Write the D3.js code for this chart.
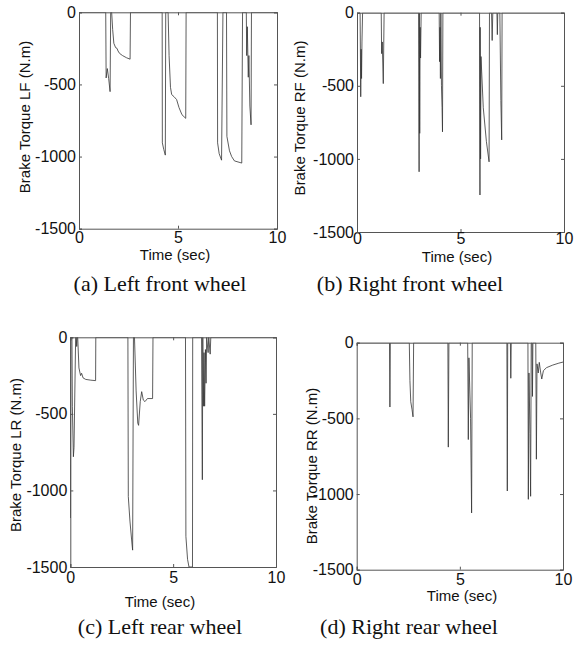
<!DOCTYPE html>
<html>
<head>
<meta charset="utf-8">
<script src="https://cdn.jsdelivr.net/npm/d3@7"></script>
<style>
  body { margin: 0; background: #fff; }
  .tick text { font-family: "Liberation Sans", Arial, sans-serif; font-size: 16px; fill: #111; }
  .axis-title { font-family: "Liberation Sans", Arial, sans-serif; font-size: 15px; fill: #111; }
  .caption { font-family: "Liberation Serif", "Times New Roman", serif; font-size: 22px; fill: #111; }
</style>
</head>
<body>
<div id="chart"></div>
<script>
// tick values shared by all four panels
const timeTicks = [0, 5, 10];
const torqueTicks = [0, -500, -1000, -1500];

const yLabels = ["Brake Torque LF (N.m)", "Brake Torque RF (N.m)", "Brake Torque LR (N.m)", "Brake Torque RR (N.m)"];
const captions = ["(a) Left front wheel", "(b) Right front wheel", "(c) Left rear wheel", "(d) Right rear wheel"];

// [time (sec), torque (N.m)]
const lfTorque = [
  [0,0],[1.35,0],[1.37,-455],[1.43,-390],[1.5,-460],[1.57,-550],[1.6,0],[1.65,0],[1.7,-120],[1.76,-215],
  [1.85,-245],[1.92,-250],[1.97,-268],[2.05,-285],[2.2,-300],[2.4,-315],[2.58,-325],[2.6,0],
  [4.2,0],[4.21,-905],[4.28,-950],[4.36,-990],[4.38,0],[4.5,0],[4.55,-300],[4.62,-520],[4.68,-570],
  [4.8,-585],[4.93,-605],[5.05,-660],[5.2,-710],[5.39,-735],[5.41,0],
  [6.99,0],[7.0,-905],[7.08,-980],[7.2,-1025],[7.27,0],[7.45,0],[7.47,-860],[7.6,-960],[7.71,-1000],
  [7.85,-1030],[8.22,-1045],[8.26,0],
  [8.45,0],[8.47,-300],[8.5,-100],[8.55,-450],[8.58,-300],[8.63,-650],[8.69,-780],[8.71,0],[10,0]
];

const rfTorque = [
  [0,0],[0.005,-1280],[0.01,0],[0.15,0],[0.18,-575],[0.2,-250],[0.22,-450],[0.24,-200],[0.27,0],
  [1.17,0],[1.19,-280],[1.22,-200],[1.27,-485],[1.31,0],
  [2.98,0],[3.0,-1088],[3.01,0],[3.03,-825],[3.05,-100],[3.07,-310],[3.1,0],
  [3.97,0],[3.99,-335],[4.01,-100],[4.03,-450],[4.05,0],[4.08,-500],[4.11,-650],[4.13,-815],[4.15,0],
  [5.92,0],[5.94,-1247],[5.95,-100],[5.97,-1000],[5.99,-300],[6.1,-650],[6.25,-880],[6.38,-1020],[6.4,0],
  [6.5,0],[6.53,-190],[6.56,0],[6.76,0],[6.78,-150],[6.8,0],[6.9,0],[6.95,-600],[6.99,-870],[7.01,0],[10,0]
];

const lrTorque = [
  [0,0],[0.01,-1180],[0.02,0],[0.08,0],[0.1,-450],[0.15,-780],[0.18,-720],[0.26,0],[0.29,0],[0.31,-60],
  [0.33,0],[0.36,0],[0.42,-200],[0.5,-250],[0.55,-235],[0.62,-265],[0.75,-275],[1.0,-280],[1.23,-283],[1.24,0],
  [2.8,0],[2.82,-1040],[2.9,-1200],[3.0,-1350],[3.03,-1390],[3.07,0],[3.12,0],[3.2,-350],[3.28,-560],
  [3.32,-575],[3.4,-420],[3.47,-355],[3.55,-410],[3.63,-420],[3.75,-400],[4.0,-400],[4.02,0],
  [5.6,0],[5.62,-1300],[5.7,-1450],[5.77,-1500],[5.94,-1500],[5.95,0],
  [6.38,0],[6.42,-930],[6.44,0],[6.47,-450],[6.5,-100],[6.53,-450],[6.57,-80],[6.6,-300],[6.63,0],
  [6.7,-100],[6.73,0],[6.8,-110],[6.83,0],[10,0]
];

const rrTorque = [
  [0,0],[1.59,0],[1.61,-425],[1.63,0],[2.55,0],[2.58,-250],[2.62,-390],[2.68,-440],[2.73,-490],[2.76,0],
  [4.42,0],[4.44,-690],[4.47,0],[5.38,0],[5.41,-640],[5.44,-100],[5.52,-500],[5.57,-1125],[5.6,0],
  [7.28,0],[7.3,-980],[7.32,0],[7.45,0],[7.47,-235],[7.49,0],
  [8.3,0],[8.32,-1035],[8.35,-200],[8.4,-600],[8.43,-1015],[8.46,0],[8.5,0],[8.52,-355],[8.54,0],
  [8.68,0],[8.71,-770],[8.74,-140],[8.8,-200],[8.85,-130],[8.92,-200],[8.97,-240],[9.05,-185],
  [9.2,-165],[9.5,-148],[9.8,-135],[10,-128]
];

class TorquePanel
{
    constructor(_config, _data)
    {
        this.config = _config;
        this.data = _data;
        this.initPanel();
    }

    initPanel()
    {
        let vis = this;
        let c = vis.config;

        vis.x = d3.scaleLinear().domain([0, 10]).range([c.left, c.right]);
        vis.y = d3.scaleLinear().domain([-1500, 0]).range([c.bottom, c.top]);

        vis.g = svg.append('g');

        vis.g.append('clipPath').attr('id', 'clip' + c.id)
            .append('rect')
            .attr('x', c.left).attr('y', c.top)
            .attr('width', c.right - c.left).attr('height', c.bottom - c.top);

        // trace
        vis.g.append('path')
            .datum(vis.data)
            .attr('clip-path', `url(#clip${c.id})`)
            .attr('fill', 'none')
            .attr('stroke', '#333')
            .attr('stroke-width', 0.8)
            .attr('d', d3.line().x(d => vis.x(d[0])).y(d => vis.y(d[1])));

        // box + inward ticks, matlab style
        vis.g.append('g')
            .attr('transform', `translate(0, ${c.bottom})`)
            .call(d3.axisBottom(vis.x).tickValues(timeTicks).tickSize(-3).tickPadding(c.xTickPad).tickFormat(d3.format('d')));
        vis.g.append('g')
            .attr('transform', `translate(0, ${c.top})`)
            .call(d3.axisTop(vis.x).tickValues(timeTicks).tickSize(-3).tickFormat(''));
        vis.g.append('g')
            .attr('transform', `translate(${c.left}, 0)`)
            .call(d3.axisLeft(vis.y).tickValues(torqueTicks).tickSize(-3).tickPadding(3).tickFormat(d => d === 0 ? '0' : '-' + Math.abs(d)));
        vis.g.append('g')
            .attr('transform', `translate(${c.right}, 0)`)
            .call(d3.axisRight(vis.y).tickValues(torqueTicks).tickSize(-3).tickFormat(''));

        vis.g.selectAll('.domain').attr('stroke', '#555');
        vis.g.selectAll('.tick line').attr('stroke', '#555');

        vis.g.append('text')
            .attr('class', 'axis-title')
            .attr('text-anchor', 'middle')
            .attr('transform', `translate(${c.yLabelX}, ${c.yLabelY}) rotate(-90)`)
            .attr('dy', '0.35em')
            .text(c.yLabel);

        vis.g.append('text')
            .attr('class', 'axis-title')
            .attr('text-anchor', 'middle')
            .attr('x', c.xLabelX).attr('y', c.xLabelY)
            .attr('dy', '0.35em')
            .text('Time (sec)');

        vis.g.append('text')
            .attr('class', 'caption')
            .attr('text-anchor', 'middle')
            .attr('x', c.captionX).attr('y', c.captionY)
            .text(c.caption);
    }
}

const svg = d3.select('#chart').append('svg')
    .attr('width', 579)
    .attr('height', 655);

new TorquePanel({id: 'a', left: 79, right: 277, top: 12.3, bottom: 228.7, xTickPad: 3,
    yLabel: yLabels[0], yLabelX: 25, yLabelY: 117, xLabelX: 175, xLabelY: 255,
    caption: captions[0], captionX: 160, captionY: 291}, lfTorque);

new TorquePanel({id: 'b', left: 357, right: 564, top: 12.7, bottom: 232, xTickPad: 1,
    yLabel: yLabels[1], yLabelX: 300, yLabelY: 118, xLabelX: 457, xLabelY: 257,
    caption: captions[1], captionX: 410, captionY: 291}, rfTorque);

new TorquePanel({id: 'c', left: 70.3, right: 276, top: 337.3, bottom: 567, xTickPad: 4.5,
    yLabel: yLabels[2], yLabelX: 16, yLabelY: 455, xLabelX: 160, xLabelY: 601.5,
    caption: captions[2], captionX: 160, captionY: 634}, lrTorque);

new TorquePanel({id: 'd', left: 356.7, right: 563, top: 342.7, bottom: 569.7, xTickPad: 4,
    yLabel: yLabels[3], yLabelX: 311.5, yLabelY: 466, xLabelX: 462, xLabelY: 596,
    caption: captions[3], captionX: 409, captionY: 634}, rrTorque);
</script>
</body>
</html>
